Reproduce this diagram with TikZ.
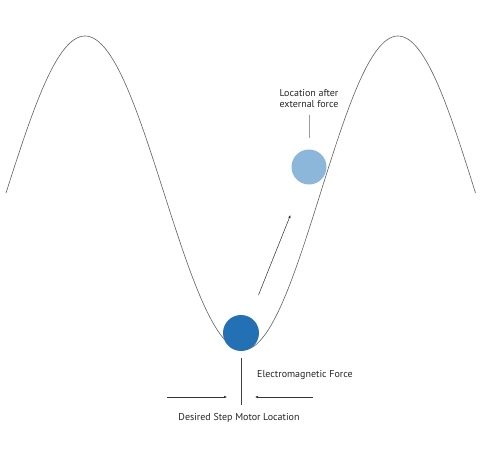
\documentclass[tikz,border=0pt]{standalone}
\usepackage{fontspec}
\setmainfont{PT Sans}
\usetikzlibrary{arrows.meta}
\definecolor{darkball}{HTML}{2370B4}
\definecolor{lightball}{HTML}{8CB6DA}
\definecolor{curvegray}{HTML}{606060}
\definecolor{leadgray}{HTML}{9A9A9A}
\tikzset{
  ball/.style={circle, inner sep=0pt, minimum size=36pt, draw=none},
  lbl/.style={font=\fontsize{10}{11.2}\selectfont, inner sep=0pt, align=center, text=black!85},
  lead/.style={draw=leadgray, line width=0.9pt},
  force/.style={draw=black!80, line width=0.5pt, -{Latex[length=3pt,width=2.6pt]}},
}
\begin{document}
\begin{tikzpicture}[x=1pt,y=-1pt]
\useasboundingbox (0,0) rectangle (480,452);
\fill[white] (0,0) rectangle (480,452);
% potential curve
\draw[curvegray, line width=0.6pt]
  plot[smooth, samples=120, domain=6:243] (\x, {193-157*cos(1.139241*(\x-85))})
  -- plot[smooth, samples=120, domain=243:475.5] (\x, {193+157*cos(1.161290*(\x-243))});
% balls
\node[ball, fill=darkball] (ball) at (241,333) {};
\node[ball, fill=lightball, minimum size=35pt] (moved) at (309,167) {};
% push arrow
\coordinate (pushstart) at (258.5,295);
\coordinate (pushend) at (290.5,215);
\draw[force] (pushstart) -- (pushend);
% label for moved location
\node[lbl] (movedlbl) at (309,98.5) {Location after\\external force};
\coordinate (moveleadtop) at (309,115);
\coordinate (moveleadbot) at (309,138);
\draw[lead] (moveleadtop) -- (moveleadbot);
% desired location marker
\coordinate (marktop) at (241,358);
\coordinate (markbot) at (241,405);
\draw[draw=black!75, line width=0.6pt] (marktop) -- (markbot);
% forces
\coordinate (lfrom) at (167,397);
\coordinate (lto) at (227,397);
\coordinate (rfrom) at (313,397);
\coordinate (rto) at (255,397);
\draw[force] (lfrom) -- (lto);
\draw[force] (rfrom) -- (rto);
\node[lbl, anchor=west] (emf) at (257,375) {Electromagnetic Force};
\node[lbl] (desired) at (239,417.5) {Desired Step Motor Location};
\end{tikzpicture}
\end{document}
